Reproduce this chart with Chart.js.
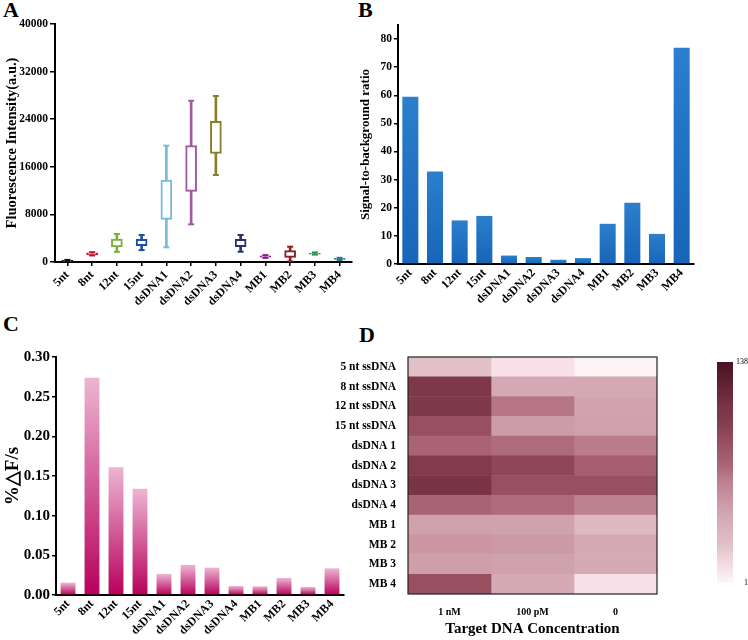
<!DOCTYPE html>
<html>
<head>
<meta charset="utf-8">
<script src="https://cdn.jsdelivr.net/npm/chart.js@4.4.1/dist/chart.umd.min.js"></script>
<style>
  body { margin: 0; background: #fff; width: 748px; height: 640px; position: relative; overflow: hidden; }
  canvas { position: absolute; }
  .tag { position: absolute; font-family: "Liberation Serif", serif; font-weight: bold; font-size: 22px; line-height: 22px; color: #000; }
</style>
</head>
<body>
<div class="tag" style="left:3px;top:-1px">A</div>
<div class="tag" style="left:358px;top:-1px">B</div>
<div class="tag" style="left:3px;top:313px">C</div>
<div class="tag" style="left:359px;top:324px">D</div>

<canvas id="chartA" width="372" height="312" style="left:0;top:0"></canvas>
<canvas id="chartB" width="360" height="312" style="left:356px;top:0"></canvas>
<canvas id="chartC" width="374" height="328" style="left:0;top:312px"></canvas>
<canvas id="chartD" width="335" height="295" style="left:330px;top:345px"></canvas>
<canvas id="chartBar" width="42" height="245" style="left:706px;top:350px"></canvas>

<script>
// ---- data ----
const probes = ['5nt', '8nt', '12nt', '15nt', 'dsDNA1', 'dsDNA2', 'dsDNA3', 'dsDNA4', 'MB1', 'MB2', 'MB3', 'MB4'];

// A: box plot (fluorescence, a.u.)
const boxMin = [0, 1100, 1700, 2000, 2470, 6330, 14620, 1730, 700, 100, 1250, 350];
const boxQ1  = [60, 1200, 2520, 2740, 7170, 11880, 18260, 2575, 800, 790, 1330, 450];
const boxQ3  = [260, 1550, 3870, 3820, 13780, 19550, 23640, 3815, 1050, 1900, 1500, 620];
const boxMax = [350, 1650, 4700, 4540, 19550, 27100, 27900, 4540, 1150, 2570, 1600, 700];
const boxColors = ['#111111', '#c8102e', '#7ab03a', '#1f4fa0', '#7ab8d8', '#a05aa0', '#8a8028', '#2a3070', '#8a1a8a', '#8a2020', '#2a8a4a', '#1a7a8a'];

// B: signal-to-background ratio
const sbRatio = [59.5, 32.9, 15.5, 17.1, 3.0, 2.5, 1.5, 2.1, 14.3, 21.8, 10.7, 76.9];

// C: %dF/s
const rateC = [0.0155, 0.274, 0.161, 0.134, 0.0265, 0.0378, 0.0345, 0.0113, 0.0109, 0.0214, 0.0101, 0.0336];

// D: heat map
const heatRows = ['5 nt ssDNA', '8 nt ssDNA', '12 nt ssDNA', '15 nt ssDNA', 'dsDNA 1', 'dsDNA 2', 'dsDNA 3', 'dsDNA 4', 'MB 1', 'MB 2', 'MB 3', 'MB 4'];
const concLabels = ['1 nM', '100 pM', '0'];
const heat1nM   = [25, 105, 104, 88, 75, 102, 110, 75, 47, 53, 48, 88];
const heat100pM = [10, 42, 68, 50, 72, 94, 88, 72, 46, 51, 46, 41];
const heat0     = [2, 42, 45, 47, 66, 78, 88, 63, 30, 41, 41, 10];
const heatMin = 1, heatMax = 138;

// ---- styles ----
const SERIF = '"Liberation Serif", "Times New Roman", serif';
const f = (size) => ({ family: SERIF, size: size, weight: 'bold' });

const rampStops  = [1, 10, 25, 42, 50, 66, 75, 88, 102, 110, 138];
const rampColors = [[252,247,246],[248,224,232],[226,192,200],[212,168,180],[204,156,168],[186,124,138],[170,98,117],[152,80,96],[130,58,76],[122,52,70],[72,18,32]];

function heatColor(v) {
  for (let i = 1; i < rampStops.length; i++) {
    if (v <= rampStops[i]) {
      const t = (v - rampStops[i - 1]) / (rampStops[i] - rampStops[i - 1]);
      const a = rampColors[i - 1], b = rampColors[i];
      return `rgb(${Math.round(a[0] + (b[0] - a[0]) * t)},${Math.round(a[1] + (b[1] - a[1]) * t)},${Math.round(a[2] + (b[2] - a[2]) * t)})`;
    }
  }
  const c = rampColors[rampColors.length - 1];
  return `rgb(${c[0]},${c[1]},${c[2]})`;
}

// gradient from bar base to bar top
function barGradient(values, bottomColor, topColor, fallback) {
  return (ctx) => {
    const chart = ctx.chart;
    if (!chart.chartArea || ctx.type !== 'data') return fallback;
    const y = chart.scales.y;
    const top = y.getPixelForValue(values[ctx.dataIndex]);
    const base = y.getPixelForValue(0);
    if (!isFinite(top) || !isFinite(base) || top === base) return fallback;
    const g = chart.ctx.createLinearGradient(0, base, 0, top);
    g.addColorStop(0, bottomColor);
    g.addColorStop(1, topColor);
    return g;
  };
}

Chart.defaults.animation = false;
Chart.defaults.events = [];
Chart.defaults.plugins.legend.display = false;
Chart.defaults.plugins.tooltip.enabled = false;
Chart.defaults.color = '#000';

function xAxis(height, ticksMarks) {
  return {
    grid: { offset: false, drawOnChartArea: false, drawTicks: ticksMarks, tickLength: 4, color: '#000', lineWidth: 1.5 },
    border: { color: '#000', width: 2 },
    ticks: { font: f(12), color: '#000', maxRotation: 45, minRotation: 45, autoSkip: false, padding: 2 },
    afterFit: (s) => { s.height = height; }
  };
}

// ---- A: box plot ----
new Chart(document.getElementById('chartA'), {
  type: 'bar',
  data: {
    labels: probes,
    datasets: [
      { type: 'line', data: boxMax, showLine: false, pointStyle: 'line', pointRadius: 3, pointBorderWidth: 2, pointBorderColor: boxColors, order: 0 },
      { type: 'line', data: boxMin, showLine: false, pointStyle: 'line', pointRadius: 3, pointBorderWidth: 2, pointBorderColor: boxColors, order: 0 },
      { data: probes.map((_, i) => [boxQ1[i], boxQ3[i]]), backgroundColor: '#fff', borderColor: boxColors, borderWidth: 2, borderSkipped: false, barThickness: 11, grouped: false, order: 1 },
      { data: probes.map((_, i) => [boxMin[i], boxMax[i]]), backgroundColor: boxColors, barThickness: 2, grouped: false, order: 2 }
    ]
  },
  options: {
    responsive: false,
    layout: { padding: { top: 24, right: 20, left: 0, bottom: 0 } },
    scales: {
      x: xAxis(50, true),
      y: {
        min: 0, max: 40000,
        ticks: { stepSize: 8000, font: f(11.5), color: '#000', padding: 2, callback: (v) => String(v) },
        grid: { drawOnChartArea: false, tickLength: 5, color: '#000', lineWidth: 1.5 },
        border: { color: '#000', width: 2 },
        title: { display: true, text: 'Fluorescence Intensity(a.u.)', font: f(14.5), color: '#000', padding: { top: 4, bottom: 2 } },
        afterFit: (s) => { s.width = 55; }
      }
    }
  }
});

// ---- B: signal-to-background ----
new Chart(document.getElementById('chartB'), {
  type: 'bar',
  data: {
    labels: probes,
    datasets: [{
      data: sbRatio,
      backgroundColor: barGradient(sbRatio, '#1765b8', '#2b7fcc', '#2274c4'),
      barPercentage: 0.65, categoryPercentage: 1
    }]
  },
  options: {
    responsive: false,
    layout: { padding: { top: 25, right: 22, left: 0, bottom: 0 } },
    scales: {
      x: xAxis(48, false),
      y: {
        min: 0, max: 85,
        ticks: { stepSize: 10, includeBounds: false, font: f(11.5), color: '#000', padding: 2 },
        grid: { drawOnChartArea: false, tickLength: 4, color: '#000', lineWidth: 1.5 },
        border: { color: '#000', width: 2 },
        title: { display: true, text: 'Signal-to-background ratio', font: f(13), color: '#000', padding: { top: 2, bottom: 2 } },
        afterFit: (s) => { s.width = 42; }
      }
    }
  }
});

// ---- C: %dF/s ----
new Chart(document.getElementById('chartC'), {
  type: 'bar',
  data: {
    labels: probes,
    datasets: [{
      data: rateC,
      backgroundColor: barGradient(rateC, '#b8005c', '#ecb6d2', '#d0609a'),
      barPercentage: 0.62, categoryPercentage: 1
    }]
  },
  options: {
    responsive: false,
    layout: { padding: { top: 45, right: 30, left: 0, bottom: 0 } },
    scales: {
      x: xAxis(45, false),
      y: {
        min: 0, max: 0.30,
        ticks: { stepSize: 0.05, font: f(15), color: '#000', padding: 2, callback: (v) => v.toFixed(2) },
        grid: { drawOnChartArea: false, tickLength: 4, color: '#000', lineWidth: 1.5 },
        border: { color: '#000', width: 2 },
        title: { display: true, text: '%\u25B3F/s', font: f(19), color: '#000', padding: { top: 2, bottom: 4 } },
        afterFit: (s) => { s.width = 56; }
      }
    }
  }
});

// ---- D: heat map ----
const heatCols = [heat1nM, heat100pM, heat0];
const frame = {
  id: 'frame',
  afterDatasetsDraw(chart) {
    const a = chart.chartArea, c = chart.ctx;
    c.save();
    c.strokeStyle = '#222';
    c.lineWidth = 1.2;
    c.strokeRect(a.left, a.top, a.right - a.left, a.bottom - a.top);
    c.restore();
  }
};
new Chart(document.getElementById('chartD'), {
  type: 'bar',
  data: {
    labels: heatRows,
    datasets: heatCols.map((col, j) => ({
      data: heatRows.map(() => [j, j + 1]),
      backgroundColor: col.map(heatColor),
      borderWidth: 0,
      barPercentage: 1, categoryPercentage: 1,
      grouped: false
    }))
  },
  options: {
    indexAxis: 'y',
    responsive: false,
    layout: { padding: { top: 12, right: 8, left: 0, bottom: 0 } },
    scales: {
      x: {
        type: 'linear', min: 0, max: 3,
        afterBuildTicks: (s) => { s.ticks = [0.5, 1.5, 2.5].map(v => ({ value: v })); },
        ticks: { font: f(10), color: '#000', padding: 4, callback: (v, i) => concLabels[i] },
        grid: { display: false },
        border: { display: false },
        title: { display: true, text: 'Target DNA Concentration', font: f(15), color: '#000', padding: { top: 2, bottom: 2 } },
        afterFit: (s) => { s.height = 46; }
      },
      y: {
        ticks: { font: f(11.5), color: '#000', padding: 4, autoSkip: false },
        grid: { display: false },
        border: { display: false },
        afterFit: (s) => { s.width = 78; }
      }
    }
  },
  plugins: [frame]
});

// ---- D colour bar ----
new Chart(document.getElementById('chartBar'), {
  type: 'bar',
  data: {
    labels: [''],
    datasets: [{
      data: [[heatMin, heatMax]],
      backgroundColor: (ctx) => {
        const chart = ctx.chart;
        if (!chart.chartArea) return heatColor(70);
        const y = chart.scales.y;
        const p0 = y.getPixelForValue(heatMin), p1 = y.getPixelForValue(heatMax);
        const g = chart.ctx.createLinearGradient(0, p0, 0, p1);
        rampStops.forEach((s) => g.addColorStop((s - heatMin) / (heatMax - heatMin), heatColor(s)));
        return g;
      },
      barPercentage: 1, categoryPercentage: 1, borderWidth: 0
    }]
  },
  options: {
    responsive: false,
    layout: { padding: { top: 12, right: 0, left: 11, bottom: 12 } },
    scales: {
      x: { display: false },
      y: {
        position: 'right', min: heatMin, max: heatMax,
        afterBuildTicks: (s) => { s.ticks = [{ value: heatMin }, { value: heatMax }]; },
        ticks: { font: { family: SERIF, size: 8 }, color: '#000', padding: 0, crossAlign: 'far' },
        grid: { display: false },
        border: { display: false },
        afterFit: (s) => { s.width = 15; }
      }
    }
  }
});
</script>
</body>
</html>
